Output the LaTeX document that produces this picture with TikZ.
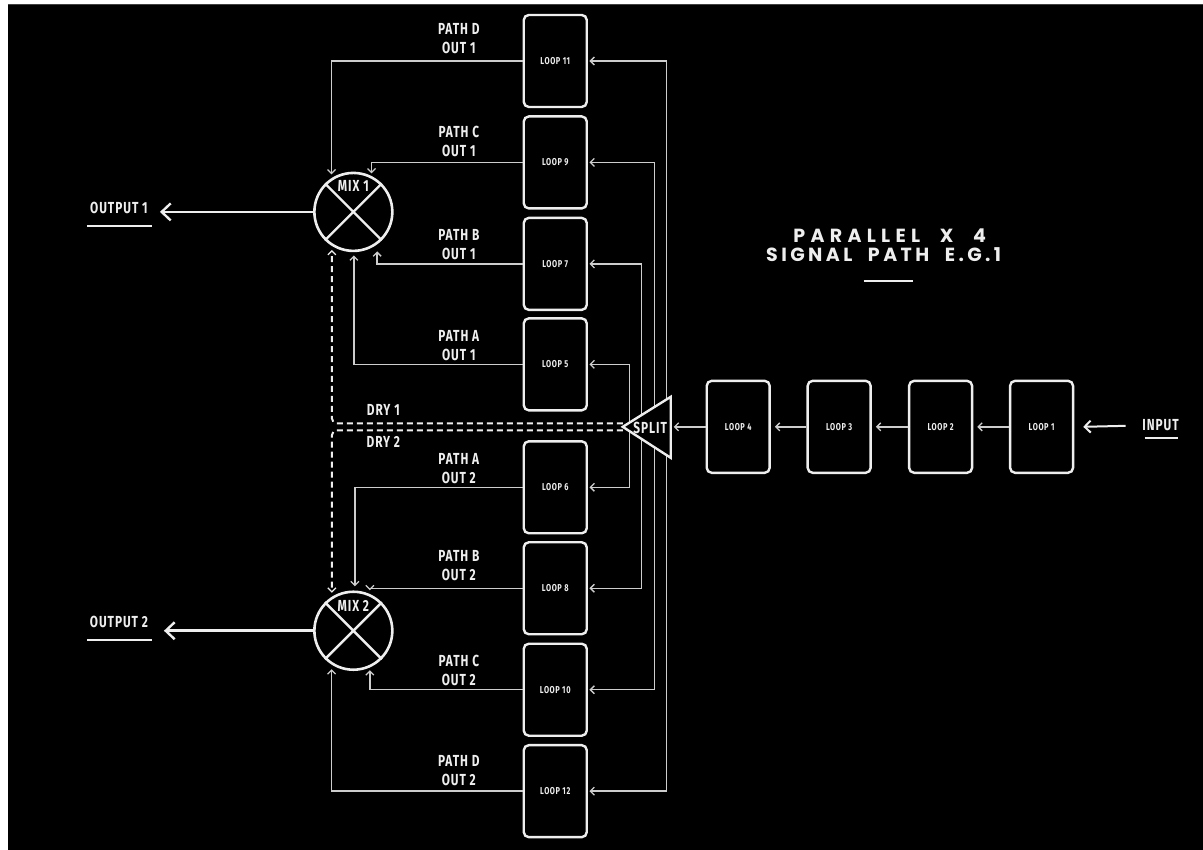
\documentclass[tikz,border=0pt]{standalone}
\usepackage{fontspec}
\usepackage{tikz}
\usetikzlibrary{arrows.meta}
\newfontfamily\condfont[FakeStretch=0.74,LetterSpace=6]{Fira Sans}
\newfontfamily\titlefont[LetterSpace=18,WordSpace=2.1]{Poppins}
\newfontfamily\titlewidefont[LetterSpace=28,WordSpace=2.1]{Poppins}
\definecolor{inkcol}{RGB}{238,238,238}
\definecolor{wirecol}{RGB}{205,205,205}

\tikzset{
  loopbox/.style={draw=inkcol, line width=2.4pt, rounded corners=5pt, minimum width=63pt,
    minimum height=92pt, inner sep=0pt, text=inkcol, font=\condfont\bfseries\fontsize{10}{12}\selectfont},
  mixer/.style={circle, draw=inkcol, line width=2.6pt, minimum size=78pt, inner sep=0pt},
  wire/.style={draw=wirecol, line width=1.5pt, shorten >=1.5pt,
    -{Straight Barb[length=4pt,width=8pt,line width=1.3pt]}},
  drywire/.style={draw=inkcol, line width=2pt, dash pattern=on 6pt off 4pt, rounded corners=5pt,
    -{Straight Barb[length=4pt,width=8pt,line width=1.3pt]}},
  bigwire/.style={draw=inkcol, line width=2.6pt, -{Straight Barb[length=9pt,width=17pt,line width=2.4pt]}},
  inwire/.style={draw=inkcol, line width=2pt, -{Straight Barb[length=6pt,width=12pt,line width=2pt]}},
  lbl/.style={text=inkcol, inner sep=0pt, font=\condfont\bfseries\fontsize{16}{19}\selectfont},
  pathlbl/.style={lbl, align=center},
  titlelbl/.style={text=inkcol, inner sep=0pt, font=\titlefont\bfseries\fontsize{19}{22}\selectfont},
  uline/.style={draw=inkcol, line width=2pt}
}

\begin{document}
\begin{tikzpicture}[x=1pt,y=-1pt]
  % page and black panel
  \fill[white] (0,0) rectangle (1203,850);
  \fill[black] (8,4) rectangle (1203,850);
  \draw[black!75!white, line width=1pt] (8,4.5) -- (1203,4.5);
  \useasboundingbox (0,0) rectangle (1203,850);

  \def\lx{555.5} % loop column
  \def\px{459}   % path labels

  % loop column
  \foreach \n/\y in {11/61,9/162.5,7/264,5/364.5,6/487.5,8/588.5,10/690,12/791.5}
    \node (l\n) [loopbox] at (\lx,\y) {LOOP \n};
  % input chain
  \foreach \n/\x in {4/738.5,3/839.5,2/941,1/1042}
    \node (l\n) [loopbox] at (\x,427) {LOOP \n};

  % mixers
  \node (m1) [mixer] at (353.5,212) {};
  \node (m2) [mixer] at (353.5,631) {};
  \foreach \m in {m1,m2}
    \draw[inkcol,line width=2.4pt] (\m.45) -- (\m.225) (\m.135) -- (\m.315);
  \node (m1t) [lbl] at (353.5,186) {MIX 1};
  \node (m2t) [lbl] at (353.5,606) {MIX 2};

  % loop outputs into the mixers
  \foreach \n/\x/\y in {11/331.7/176,9/371.7/175,7/377.3/250,5/354/254,
                        6/355/588,8/370/592,10/370/669,12/331.7/668} {
    \coordinate (d\n) at (\x,\y);
    \draw[wire] (l\n.west) -| (d\n);
  }
  \foreach \n/\p/\o/\y in {11/D/1/38.8,9/C/1/141.8,7/B/1/244.5,5/A/1/346.2,
                           6/A/2/468.3,8/B/2/566.2,10/C/2/670.5,12/D/2/770.8}
    \node (t\n) [pathlbl] at (\px,\y) {PATH \p\\OUT \o};

  % dry paths
  \coordinate (dry1s) at (623,423.5); \coordinate (dry1e) at (332,250);
  \coordinate (dry2s) at (623,430.5); \coordinate (dry2e) at (332,593);
  \draw[drywire] (dry1s) -| (dry1e);
  \draw[drywire] (dry2s) -| (dry2e);
  \node (dry1) [lbl] at (383.5,410.5) {DRY 1};
  \node (dry2) [lbl] at (383.5,442) {DRY 2};

  % split feeds (run under the split)
  \foreach \u/\d/\x in {5/6/630,7/8/642,9/10/655,11/12/667} {
    \coordinate (b\u) at (\x,427);
    \draw[wire] (b\u) |- (l\u.east);
    \draw[wire] (b\u) |- (l\d.east);
  }
  \coordinate (sp) at (623,427);
  \filldraw[draw=inkcol, fill=black, line width=2.4pt] (sp) -- (671,397) -- (671,458) -- cycle;
  \node (split) [lbl] at (650.5,428) {SPLIT};

  % input chain
  \foreach \a/\b in {1/2,2/3,3/4}
    \draw[wire,shorten >=4pt] (l\a.west) -- (l\b.east);
  \coordinate (spin) at (671,427);
  \draw[wire,shorten >=3pt] (l4.west) -- (spin);
  \node (in) [lbl] at (1161,425.5) {INPUT};
  \draw[uline] (1145,438) -- (1178,438);
  \coordinate (inS) at (1126,426);
  \draw[inwire] (inS) -- ([xshift=9pt]l1.east);

  % outputs
  \node (o1) [lbl] at (119,208.5) {OUTPUT 1};
  \coordinate (o1tip) at (160,212);
  \draw[bigwire] (m1.west) -- (o1tip);
  \draw[uline] (87,226) -- (152,226);
  \node (o2) [lbl] at (119,622.5) {OUTPUT 2};
  \coordinate (o2tip) at (164,631);
  \draw[bigwire] (m2.west) -- (o2tip);
  \draw[uline] (87,640.5) -- (152,640.5);

  % title
  \node (title1) [titlelbl, font=\titlewidefont\bfseries\fontsize{19}{22}\selectfont] at (890,235.5) {PARALLEL X 4};
  \node (title2) [titlelbl] at (884,255) {SIGNAL PATH E.G.1};
  \draw[uline] (864,281) -- (913,281);
\end{tikzpicture}
\end{document}
